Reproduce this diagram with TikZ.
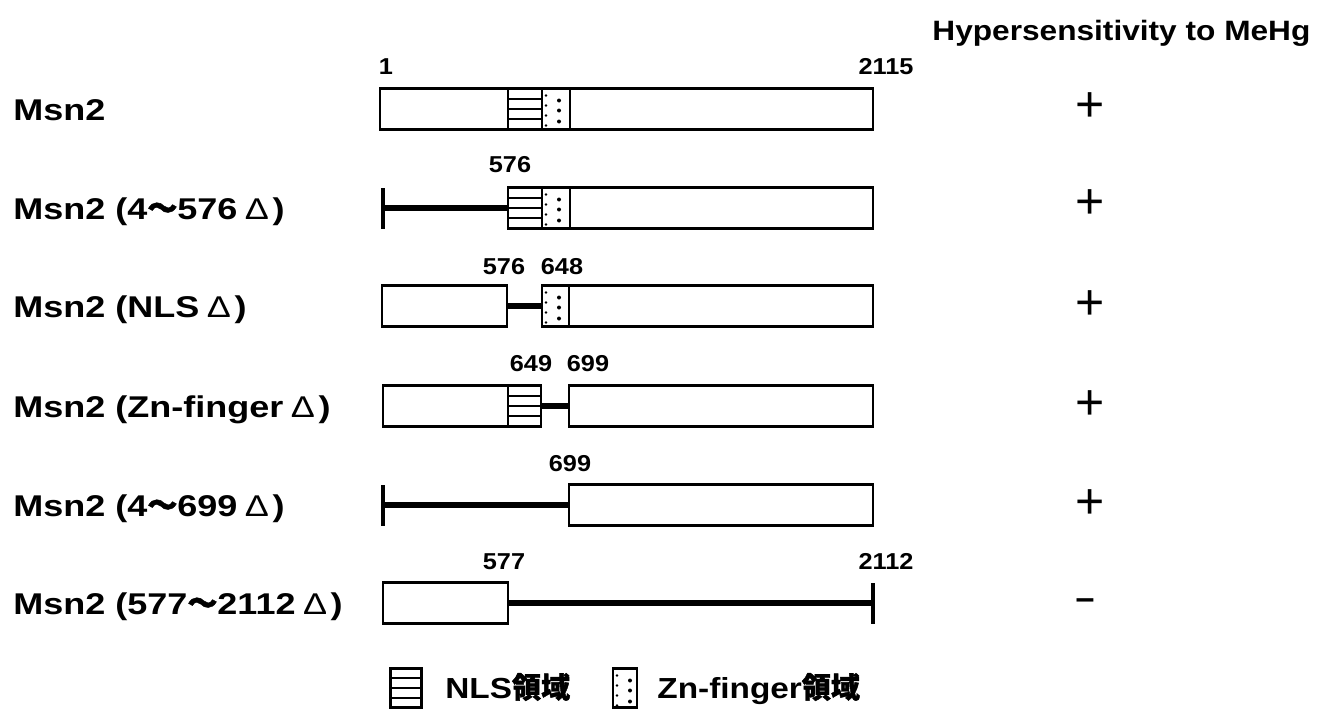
\documentclass[tikz,border=0pt]{standalone}
\usepackage{fontspec}
\setmainfont{Liberation Sans}
\newfontfamily\labfont[FakeStretch=1.2]{Liberation Sans}
\newfontfamily\numfont[FakeStretch=1.1]{Liberation Sans}
\newfontfamily\titlefont[FakeStretch=1.13]{Liberation Sans}
\newfontfamily\legfont[FakeStretch=1.15]{Liberation Sans}
\newfontfamily\cjkb[FakeBold=1.5]{Noto Sans CJK JP}
\usetikzlibrary{calc}
\tikzset{
  segbox/.style={draw, line width=1.3pt, fill=white, inner sep=0pt, outer sep=0pt, minimum height=20.5pt},
  inner/.style={line width=1.2pt},
  del/.style={line width=2.6pt},
  tickmark/.style={line width=1.7pt},
  lab/.style={font=\labfont\bfseries\fontsize{15}{17}\selectfont, anchor=base west, inner sep=0pt},
  num/.style={font=\numfont\bfseries\fontsize{11.5}{13}\selectfont, anchor=base, inner sep=0pt},
  ttl/.style={font=\titlefont\bfseries\fontsize{14}{16}\selectfont, anchor=base west, inner sep=0pt},
  leg/.style={font=\legfont\bfseries\fontsize{14.5}{16}\selectfont, anchor=base west, inner sep=0pt},
  sign/.style={font=\fontsize{25}{27}\selectfont, inner sep=0pt},
  minus/.style={font=\bfseries\fontsize{17}{19}\selectfont, inner sep=0pt},
}
\newcommand\seg[5]{%
  \pgfmathsetmacro\segw{(#3-#2)*0.5}%
  \node[segbox,minimum width=\segw pt,#5] (#1) at ({(#2+#3)/2},#4) {};}
\newcommand\nlslines[1]{%
  \foreach \f in {0.25,0.5,0.75}{\draw[inner] ($(#1.north west)!\f!(#1.south west)$) -- ($(#1.north east)!\f!(#1.south east)$);}}
\newcommand\zndots[1]{%
  \foreach \dy in {7,17,27,37}{\fill ($(#1.north west)+(4,\dy)$) circle (0.7pt);}%
  \foreach \dy in {12,22,33}{\fill ($(#1.north west)+(17,\dy)$) circle (1pt);}}
\newcommand\tl{{\cjkb 〜}}
\newcommand\dl{\hspace{0.25em}{\mdseries Δ}\hspace{0.12em}}
\begin{document}
\begin{tikzpicture}[x=0.5pt,y=-0.5pt]
\useasboundingbox (0,0) rectangle (1324,712);
\fill[white] (0,0) rectangle (1324,712);

% title
\node[ttl] (title) at (932,40) {Hypersensitivity to MeHg};

% row labels
\node[lab] (l1) at (13,120) {Msn2};
\node[lab] (l2) at (13,219) {Msn2 (4\tl576\dl)};
\node[lab] (l3) at (13,317) {Msn2 (NLS\dl)};
\node[lab] (l4) at (13,417) {Msn2 (Zn-finger\dl)};
\node[lab] (l5) at (13,516) {Msn2 (4\tl699\dl)};
\node[lab] (l6) at (13,614) {Msn2 (577\tl2112\dl)};

% row 1
\seg{r1a}{380}{508}{109}{}
\seg{r1n}{508}{542}{109}{}
\seg{r1z}{542}{570}{109}{}
\seg{r1b}{570}{873}{109}{}
\nlslines{r1n}\zndots{r1z}
\node[num] (n1a) at (386,74) {1};
\node[num] (n1b) at (886,74) {2115};

% row 2
\coordinate (t2) at (383,208);
\coordinate (t2u) at (383,188);
\coordinate (t2d) at (383,229);
\seg{r2n}{508}{542}{208}{}
\seg{r2z}{542}{570}{208}{}
\seg{r2b}{570}{873}{208}{}
\nlslines{r2n}\zndots{r2z}
\draw[del] (t2) -- (r2n.west);
\draw[tickmark] (t2u) -- (t2d);
\node[num] (n2a) at (510,172) {576};

% row 3
\seg{r3a}{382}{507}{306}{}
\seg{r3z}{542}{569}{306}{}
\seg{r3b}{569}{873}{306}{}
\zndots{r3z}
\draw[del] (r3a.east) -- (r3z.west);
\node[num] (n3a) at (504,274) {576};
\node[num] (n3b) at (562,274) {648};

% row 4
\seg{r4a}{383}{508}{406}{}
\seg{r4n}{508}{541}{406}{}
\seg{r4b}{569}{873}{406}{}
\nlslines{r4n}
\draw[del] (r4n.east) -- (r4b.west);
\node[num] (n4a) at (531,371) {649};
\node[num] (n4b) at (588,371) {699};

% row 5
\coordinate (t5) at (383,505);
\coordinate (t5u) at (383,485);
\coordinate (t5d) at (383,526);
\seg{r5b}{569}{873}{505}{}
\draw[del] (t5) -- (r5b.west);
\draw[tickmark] (t5u) -- (t5d);
\node[num] (n5a) at (570,471) {699};

% row 6
\seg{r6a}{383}{508}{603}{}
\coordinate (e6) at (873,603);
\coordinate (e6u) at (873,583);
\coordinate (e6d) at (873,624);
\draw[del] (r6a.east) -- (e6);
\draw[tickmark] (e6u) -- (e6d);
\node[num] (n6a) at (504,569) {577};
\node[num] (n6b) at (886,569) {2112};

% hypersensitivity signs
\node[sign] (s1) at (1090,107) {+};
\node[sign] (s2) at (1090,204) {+};
\node[sign] (s3) at (1090,305) {+};
\node[sign] (s4) at (1090,405) {+};
\node[sign] (s5) at (1090,504) {+};
\node[minus] (s6) at (1085,604) {–};

% legend
\node[segbox, minimum width=15.5pt, minimum height=19.5pt] (gn) at (406,688) {};
\nlslines{gn}
\node[leg] (gnt) at (445,698) {NLS{\cjkb 領域}};
\node[segbox, minimum width=12pt, minimum height=19.5pt] (gz) at (625,688) {};
\zndots{gz}
\node[leg] (gzt) at (657,698) {Zn-finger{\cjkb 領域}};
\end{tikzpicture}
\end{document}
